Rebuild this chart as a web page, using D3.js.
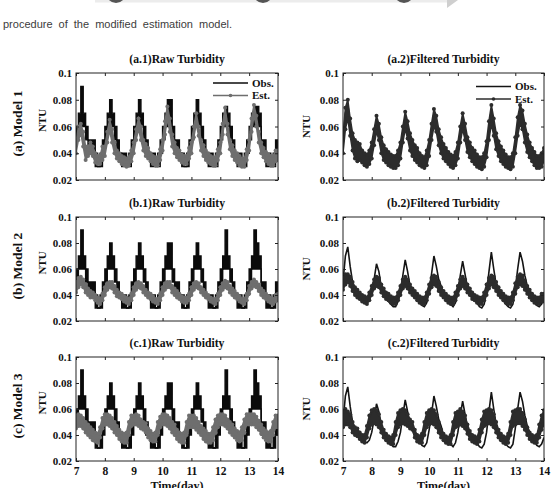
<!DOCTYPE html>
<html>
<head>
<meta charset="utf-8">
<title>Turbidity estimation</title>
<script src="https://d3js.org/d3.v7.min.js"></script>
<style>
  body { margin: 0; background: #fff; }
  svg { display: block; }
</style>
</head>
<body>
<svg id="chart" width="553" height="488"></svg>
<script>
// samples every 2 hours, day 7 .. day 14
var startDay = 7, endDay = 14, stepsPerDay = 12;

var xTicks = [7, 8, 9, 10, 11, 12, 13, 14];
var yTicks = [0.02, 0.04, 0.06, 0.08, 0.1];
var yTickLabels = ["0.02", "0.04", "0.06", "0.08", "0.1"];
var rowLabels = ["(a) Model 1", "(b) Model 2", "(c) Model 3"];
var rawTitles = ["(a.1)Raw Turbidity", "(b.1)Raw Turbidity", "(c.1)Raw Turbidity"];
var filtTitles = ["(a.2)Filtered Turbidity", "(b.2)Filtered Turbidity", "(c.2)Filtered Turbidity"];
var legendNames = ["Obs.", "Est."];
var caption = "procedure of the modified estimation model.";

// all values in 0.001 NTU, one row per day (12 samples) + last sample at day 14
var obsRawLo = [
  50,60,60,60,50,40,40,40,30,30,30,40,
  50,60,60,60,50,40,40,30,30,30,30,40,
  50,60,60,60,50,40,40,30,30,30,30,40,
  50,60,60,60,50,40,40,40,30,30,30,40,
  50,60,60,60,50,40,40,30,30,30,30,40,
  50,60,60,60,50,40,40,30,30,30,30,40,
  50,60,60,60,60,40,40,30,30,30,30,40,
  40];
var obsRawHi = [
  60,70,90,70,60,50,50,50,40,30,40,50,
  60,70,80,70,60,50,40,40,40,30,40,50,
  60,70,80,70,60,50,40,40,40,30,40,50,
  60,70,80,80,60,50,50,40,40,30,40,50,
  60,70,80,70,60,50,40,40,40,30,40,50,
  60,70,90,70,60,50,40,40,40,30,40,50,
  60,70,90,80,70,50,50,40,40,30,40,50,
  50];
// model 1 raw run: last two peaks lower
var obsRawAHi = [
  60,70,90,70,60,50,50,50,40,30,40,50,
  60,70,80,70,60,50,40,40,40,30,40,50,
  60,70,80,70,60,50,40,40,40,30,40,50,
  60,70,80,80,60,50,50,40,40,30,40,50,
  60,70,80,70,60,50,40,40,40,30,40,50,
  60,70,75,70,60,50,40,40,40,30,40,50,
  60,70,75,75,70,50,50,40,40,30,40,50,
  50];

var estA1Lo = [
  40,50,55,45,35,38,40,38,33,32,32,35,
  38,48,57,48,40,36,34,32,31,30,31,34,
  40,50,58,50,42,38,36,34,32,31,31,35,
  42,54,66,56,45,40,37,35,33,32,32,36,
  40,52,62,53,42,38,35,33,32,31,31,35,
  40,54,66,54,43,38,35,33,31,30,30,35,
  42,56,68,60,48,40,37,34,32,31,31,34,
  35];
var estA1Hi = [
  48,60,62,56,45,45,48,45,40,38,38,45,
  45,56,65,58,48,42,40,38,37,36,37,42,
  48,58,66,60,50,47,44,40,38,37,37,43,
  50,64,75,66,54,48,44,42,39,38,38,44,
  48,60,70,60,50,46,42,40,38,37,37,43,
  48,62,74,62,50,46,42,40,38,36,36,43,
  50,66,76,68,56,48,44,41,39,38,38,42,
  42];

var estB1Lo = [
  42,46,48,46,42,40,38,38,36,34,33,36,
  40,44,46,45,42,39,38,37,35,34,33,36,
  40,44,46,45,42,40,38,37,35,34,33,36,
  40,44,46,46,42,40,38,37,35,34,34,36,
  40,44,46,45,42,40,38,37,35,34,33,36,
  40,44,46,45,42,40,38,37,35,34,33,36,
  41,45,47,46,43,40,38,37,35,34,33,35,
  36];
var estB1Hi = [
  50,53,54,52,48,45,43,42,40,38,37,41,
  46,49,50,50,47,44,42,41,39,38,37,41,
  46,49,50,49,47,44,42,41,39,37,37,41,
  46,49,50,50,47,45,43,41,39,38,38,41,
  46,49,50,49,46,44,42,40,38,37,37,41,
  46,49,51,50,47,45,43,41,39,37,37,41,
  47,50,52,50,48,45,43,41,39,38,37,40,
  41];

var estC1Lo = [
  45,47,47,45,42,40,38,36,35,34,38,45,
  48,48,47,45,42,40,37,35,34,34,40,47,
  48,48,47,45,44,42,38,36,35,35,40,46,
  48,48,47,45,42,40,37,35,34,34,40,46,
  46,46,44,42,40,37,35,34,34,36,42,46,
  48,48,47,45,42,40,38,36,35,36,42,48,
  48,48,48,46,44,41,38,36,35,35,40,46,
  46];
var estC1Hi = [
  55,56,55,53,50,48,46,44,42,41,46,53,
  56,56,55,53,50,47,44,42,41,42,50,55,
  55,56,55,52,50,49,45,43,41,42,50,54,
  56,56,55,53,50,48,44,42,41,42,50,55,
  55,55,53,50,47,45,43,41,41,46,52,55,
  56,56,55,52,50,48,45,43,42,46,52,56,
  56,56,56,54,51,48,45,43,42,43,50,55,
  55];

var obsFilt = [
  50,70,77,62,50,45,40,42,38,35,34,36,
  42,52,64,58,46,40,37,35,33,31,31,35,
  42,55,67,58,47,44,39,37,35,32,31,34,
  44,56,70,62,52,47,40,37,35,33,31,34,
  42,55,66,56,46,41,38,36,34,31,30,33,
  42,58,73,60,48,42,38,36,33,31,30,33,
  45,60,73,66,55,47,42,38,35,32,31,33,
  38];

var estA2Lo = [
  40,58,66,53,42,36,34,35,33,31,30,32,
  36,46,56,50,40,35,33,31,30,29,29,31,
  36,48,58,51,42,38,35,33,31,30,29,31,
  38,50,60,56,46,40,36,34,32,30,29,31,
  36,48,58,50,41,37,34,32,30,29,28,30,
  37,50,62,53,43,38,34,32,30,29,28,30,
  40,53,62,58,48,41,37,34,31,29,29,30,
  34];
var estA2Hi = [
  52,74,80,66,55,50,48,47,42,40,39,42,
  48,58,68,62,52,46,43,41,39,38,38,42,
  48,60,71,64,55,50,46,44,40,38,37,42,
  50,62,73,68,58,52,47,44,41,39,38,41,
  48,60,70,62,52,48,44,42,39,37,37,40,
  49,64,76,66,55,49,45,42,39,37,37,40,
  52,67,76,72,62,54,48,44,41,38,38,40,
  44];

var estB2Lo = [
  44,48,50,47,43,40,38,37,35,34,33,36,
  40,45,47,46,42,39,37,36,34,33,33,36,
  40,45,47,45,42,40,38,36,34,33,33,36,
  41,46,48,47,43,40,38,36,34,33,33,36,
  40,45,47,45,42,40,37,36,34,33,33,36,
  40,45,48,46,43,40,38,36,34,33,33,36,
  41,46,48,47,44,41,38,36,34,33,33,35,
  35];
var estB2Hi = [
  53,56,56,54,50,46,44,42,40,39,38,42,
  47,52,54,53,48,45,42,41,39,38,38,42,
  47,52,54,52,48,45,43,41,39,38,38,42,
  48,53,55,54,50,46,43,41,39,38,38,42,
  47,52,54,52,48,45,42,40,39,38,38,42,
  48,53,55,54,50,46,43,41,39,38,38,42,
  49,54,56,55,51,47,44,41,39,38,38,41,
  41];

var estC2Lo = [
  46,48,48,46,42,40,39,37,35,34,38,45,
  48,49,48,46,42,38,36,34,33,33,40,46,
  48,49,48,47,45,44,38,35,34,34,40,46,
  48,49,48,46,42,38,36,34,33,33,40,46,
  47,48,47,45,41,37,35,34,33,35,42,47,
  48,49,48,46,42,38,36,34,33,34,40,47,
  48,49,49,47,44,40,37,35,34,34,38,44,
  48];
var estC2Hi = [
  58,60,58,56,50,46,45,42,40,40,47,55,
  59,60,59,56,50,44,41,39,38,40,50,57,
  59,60,59,56,52,50,44,40,39,41,50,57,
  59,60,59,56,50,44,41,39,38,40,50,57,
  58,60,58,55,48,43,40,39,38,44,52,58,
  59,60,59,56,50,44,41,39,38,41,50,58,
  59,60,60,57,52,46,42,40,39,40,48,55,
  59];

var times = obsRawLo.map(function(d, i) { return startDay + i / stepsPerDay; });

var serif = '"Liberation Serif", "Times New Roman", serif';
var rawObsColor = "#0b0b0b", rawEstColor = "#6e6e6e";
var filtObsColor = "#141414", filtEstColor = "#2c2c2c";

var cols = [{x: 76, w: 202}, {x: 343, w: 201}];
var rows = [{y: 73, h: 107}, {y: 217, h: 104}, {y: 357, h: 104}];

var panels = [
  {row: 0, col: 0, title: rawTitles[0], obsLo: obsRawLo, obsHi: obsRawAHi, estLo: estA1Lo, estHi: estA1Hi, raw: true, legend: true},
  {row: 0, col: 1, title: filtTitles[0], obs: obsFilt, estLo: estA2Lo, estHi: estA2Hi, raw: false, legend: true},
  {row: 1, col: 0, title: rawTitles[1], obsLo: obsRawLo, obsHi: obsRawHi, estLo: estB1Lo, estHi: estB1Hi, raw: true},
  {row: 1, col: 1, title: filtTitles[1], obs: obsFilt, estLo: estB2Lo, estHi: estB2Hi, raw: false},
  {row: 2, col: 0, title: rawTitles[2], obsLo: obsRawLo, obsHi: obsRawHi, estLo: estC1Lo, estHi: estC1Hi, raw: true},
  {row: 2, col: 1, title: filtTitles[2], obs: obsFilt, estLo: estC2Lo, estHi: estC2Hi, raw: false}
];

var svg = d3.select("#chart");

// cut-off banner of the page above
var banner = svg.append("g");
banner.append("rect").attr("x", 95).attr("y", -10).attr("width", 352).attr("height", 12.5).attr("fill", "#ececec");
banner.append("path").attr("d", "M447,-10L458,0L447,8Z").attr("fill", "#cfcfcf");
[116, 263, 404].forEach(function(cx) {
  banner.append("circle").attr("cx", cx).attr("cy", -7).attr("r", 10).attr("fill", "#555");
});
svg.append("text")
  .attr("x", 3).attr("y", 28)
  .attr("font-family", '"Liberation Sans", Arial, sans-serif')
  .attr("font-size", 11).attr("word-spacing", 3)
  .attr("fill", "#3c3c3c")
  .text(caption);

function drawPanel(p, idx) {
  var col = cols[p.col], row = rows[p.row];
  var x = d3.scaleLinear().domain([startDay, endDay]).range([0, col.w]);
  var y = d3.scaleLinear().domain([0.02, 0.1]).range([row.h, 0]);
  var g = svg.append("g").attr("transform", "translate(" + col.x + "," + row.y + ")");

  g.append("clipPath").attr("id", "clip" + idx)
    .append("rect").attr("width", col.w).attr("height", row.h);
  var plot = g.append("g").attr("clip-path", "url(#clip" + idx + ")");

  var px = function(d, i) { return x(times[i]); };

  function band(lo, hi, curve) {
    return d3.area().curve(curve).x(px)
      .y0(function(d, i) { return y(lo[i] / 1000); })
      .y1(function(d, i) { return y(hi[i] / 1000); });
  }
  var line = function(curve) {
    return d3.line().curve(curve).x(px).y(function(d) { return y(d / 1000); });
  };

  var estColor = p.raw ? rawEstColor : filtEstColor;

  // observed
  if (p.raw) {
    plot.append("path").datum(p.obsLo)
      .attr("d", band(p.obsLo, p.obsHi, d3.curveStepAfter))
      .attr("fill", rawObsColor);
    [p.obsLo, p.obsHi].forEach(function(s) {
      plot.append("path").datum(s).attr("d", line(d3.curveStepAfter))
        .attr("fill", "none").attr("stroke", rawObsColor).attr("stroke-width", 1.4);
    });
  } else {
    plot.append("path").datum(p.obs).attr("d", line(d3.curveLinear))
      .attr("fill", "none").attr("stroke", filtObsColor).attr("stroke-width", 1.6);
  }

  // estimated
  plot.append("path").datum(p.estLo)
    .attr("d", band(p.estLo, p.estHi, d3.curveLinear))
    .attr("fill", estColor).attr("stroke", estColor).attr("stroke-width", 1.5);
  [p.estLo, p.estHi].forEach(function(s) {
    plot.append("g").selectAll("circle").data(s).enter().append("circle")
      .attr("cx", px).attr("cy", function(d) { return y(d / 1000); })
      .attr("r", 2).attr("fill", estColor);
  });

  // box and inward ticks
  g.append("rect").attr("width", col.w).attr("height", row.h)
    .attr("fill", "none").attr("stroke", "#222").attr("stroke-width", 1);

  var bottomRow = p.row === rows.length - 1;
  var axes = [
    {ax: d3.axisLeft(y).tickValues(yTicks).tickFormat(function(d, i) { return yTickLabels[i]; }), t: "translate(0,0)"},
    {ax: d3.axisRight(y).tickValues(yTicks).tickFormat(""), t: "translate(" + col.w + ",0)"},
    {ax: d3.axisTop(x).tickValues(xTicks).tickFormat(""), t: "translate(0,0)"},
    {ax: d3.axisBottom(x).tickValues(xTicks).tickFormat(bottomRow ? d3.format("d") : ""), t: "translate(0," + row.h + ")"}
  ];
  axes.forEach(function(a, k) {
    var ag = g.append("g").attr("transform", a.t)
      .call(a.ax.tickSize(-3).tickPadding(k === 0 ? 4 : 6));
    ag.select(".domain").remove();
    ag.selectAll("line").attr("stroke", "#222");
    ag.attr("font-family", serif).attr("font-size", k === 3 ? 11.5 : 11)
      .attr("font-weight", "bold");
    ag.selectAll("text").attr("fill", "#111");
  });

  // title
  g.append("text").attr("x", col.w / 2).attr("y", -10)
    .attr("text-anchor", "middle")
    .attr("font-family", serif).attr("font-size", 11.7).attr("font-weight", "bold")
    .attr("fill", "#111").text(p.title);

  // NTU label
  var ntuX = p.col === 0 ? -30 : -33;
  var ntuY = row.h / 2 - (p.col === 0 ? 6 : 0);
  g.append("text")
    .attr("transform", "translate(" + ntuX + "," + ntuY + ") rotate(-90)")
    .attr("text-anchor", "middle")
    .attr("font-family", serif).attr("font-size", 11).attr("font-weight", "bold")
    .attr("fill", "#111").text("NTU");

  if (bottomRow) {
    g.append("text").attr("x", col.w / 2).attr("y", row.h + 29)
      .attr("text-anchor", "middle")
      .attr("font-family", serif).attr("font-size", 12).attr("font-weight", "bold")
      .attr("fill", "#111").text("Time(day)");
  }

  if (p.legend) {
    var lx = p.col === 0 ? 137 : 133, ly = p.col === 0 ? 10 : 13.5;
    var lg = g.append("g").attr("transform", "translate(" + lx + "," + ly + ")");
    [p.raw ? rawObsColor : filtObsColor, estColor].forEach(function(c, i) {
      var yy = i * 12.5;
      lg.append("line").attr("x1", 0).attr("x2", 35).attr("y1", yy).attr("y2", yy)
        .attr("stroke", c).attr("stroke-width", 1.3);
      if (i === 1) {
        lg.append("circle").attr("cx", 17.5).attr("cy", yy).attr("r", 1.8).attr("fill", c);
      }
      lg.append("text").attr("x", 39).attr("y", yy + 3.8)
        .attr("font-family", serif).attr("font-size", 11).attr("font-weight", "bold")
        .attr("fill", "#111").text(legendNames[i]);
    });
  }
}

panels.forEach(drawPanel);

// row labels
rows.forEach(function(r, i) {
  svg.append("text")
    .attr("transform", "translate(21.5," + (r.y + r.h / 2 - 3) + ") rotate(-90)")
    .attr("text-anchor", "middle")
    .attr("font-family", serif).attr("font-size", 13.5).attr("font-weight", "bold")
    .attr("fill", "#111").text(rowLabels[i]);
});
</script>
</body>
</html>
